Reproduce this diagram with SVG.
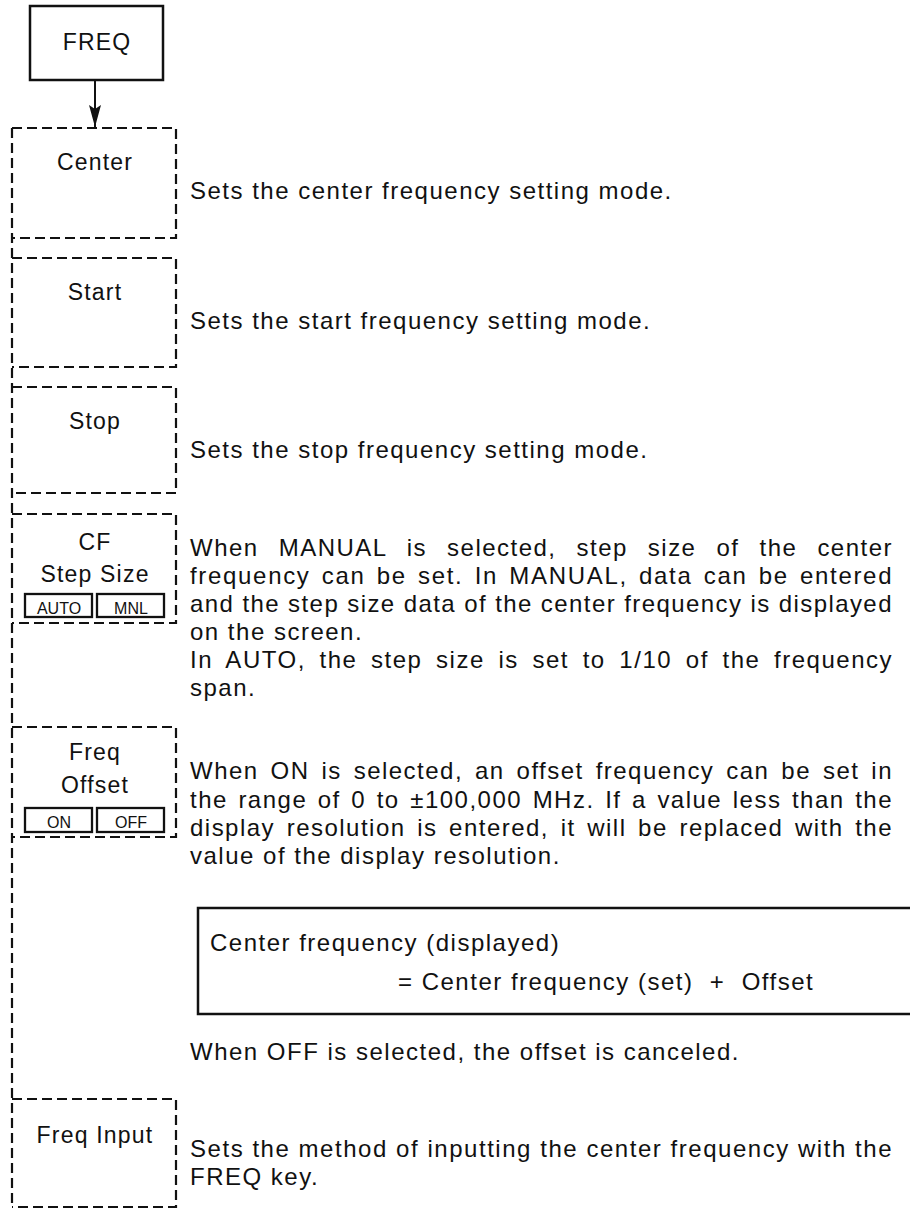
<svg xmlns="http://www.w3.org/2000/svg" width="910" height="1210" viewBox="0 0 910 1210">
<defs>
<marker id="arr" viewBox="0 0 22 12" refX="22" refY="6" markerWidth="22" markerHeight="12" markerUnits="userSpaceOnUse" orient="auto">
<path d="M0 0 L22 6 L0 12 L4 6 Z" fill="#111"/>
</marker>
</defs>
<style>
.t{font-family:"Liberation Sans",Arial,Helvetica,sans-serif;fill:#111}
.d{font-size:24px;letter-spacing:1.5px}
.l{font-size:23px;letter-spacing:1.2px;text-anchor:middle}
.k{font-size:16px;text-anchor:middle}
.dash{fill:none;stroke:#111;stroke-width:2.2;stroke-dasharray:10 5}
.solid{fill:none;stroke:#111;stroke-width:2.5}
.btn{fill:none;stroke:#111;stroke-width:2.3}
</style>
<rect width="910" height="1210" fill="#fff"/>

<g id="node-freq">
<rect class="solid" x="30" y="6" width="133" height="74"/>
<text class="t l" x="97" y="50">FREQ</text>
</g>

<g id="connectors">
<line x1="95" y1="80" x2="95" y2="127" stroke="#111" stroke-width="2" marker-end="url(#arr)"/>
</g>

<g id="menu-spine">
<line class="dash" x1="12" y1="128" x2="12" y2="1207"/>
</g>

<g id="node-center">
<path class="dash" d="M12 128 H176 V238 H12"/>
<text class="t l" x="95" y="170">Center</text>
<text class="t d" x="190" y="199">Sets the center frequency setting mode.</text>
</g>

<g id="node-start">
<path class="dash" d="M12 258 H176 V367 H12"/>
<text class="t l" x="95" y="300">Start</text>
<text class="t d" x="190" y="329">Sets the start frequency setting mode.</text>
</g>

<g id="node-stop">
<path class="dash" d="M12 387 H176 V493 H12"/>
<text class="t l" x="95" y="429">Stop</text>
<text class="t d" x="190" y="458">Sets the stop frequency setting mode.</text>
</g>

<g id="node-cf">
<path class="dash" d="M12 514 H176 V623 H12"/>
<text class="t l" x="95" y="550">CF</text>
<text class="t l" x="95" y="582">Step Size</text>
<rect class="btn" x="25" y="594" width="67" height="23"/>
<rect class="btn" x="97" y="594" width="67" height="23"/>
<text class="t k" x="59" y="614">AUTO</text>
<text class="t k" x="131" y="614">MNL</text>
<text class="t d" x="190" y="556" textLength="703" lengthAdjust="spacing" style="word-spacing:11.9px">When MANUAL is selected, step size of the center</text>
<text class="t d" x="190" y="584" textLength="703" lengthAdjust="spacing" style="word-spacing:2.9px">frequency can be set.  In MANUAL, data can be entered</text>
<text class="t d" x="190" y="612" textLength="703" lengthAdjust="spacing">and the step size data of the center frequency is displayed</text>
<text class="t d" x="190" y="640">on the screen.</text>
<text class="t d" x="190" y="668" textLength="703" lengthAdjust="spacing" style="word-spacing:5.5px">In AUTO, the step size is set to 1/10 of the frequency</text>
<text class="t d" x="190" y="696">span.</text>
</g>

<g id="node-offset">
<path class="dash" d="M12 727 H176 V837 H12"/>
<text class="t l" x="95" y="760">Freq</text>
<text class="t l" x="95" y="793">Offset</text>
<rect class="btn" x="25" y="808" width="67" height="24"/>
<rect class="btn" x="97" y="808" width="67" height="24"/>
<text class="t k" x="59" y="828">ON</text>
<text class="t k" x="131" y="828">OFF</text>
<text class="t d" x="190" y="779" textLength="703" lengthAdjust="spacing" style="word-spacing:3.8px">When ON is selected, an offset frequency can be set in</text>
<text class="t d" x="190" y="808" textLength="703" lengthAdjust="spacing" style="word-spacing:2.4px">the range of 0 to ±100,000 MHz.  If a value less than the</text>
<text class="t d" x="190" y="836" textLength="703" lengthAdjust="spacing" style="word-spacing:3.5px">display resolution is entered, it will be replaced with the</text>
<text class="t d" x="190" y="864">value of the display resolution.</text>
<rect class="solid" x="198" y="908" width="730" height="106"/>
<text class="t d" x="210" y="951">Center frequency (displayed)</text>
<text class="t d" x="398" y="990" xml:space="preserve">= Center frequency (set)  +  Offset</text>
<text class="t d" x="190" y="1060">When OFF is selected, the offset is canceled.</text>
</g>

<g id="node-freq-input">
<path class="dash" d="M12 1099 H176 V1207 H12"/>
<text class="t l" x="95" y="1143">Freq Input</text>
<text class="t d" x="190" y="1157" textLength="703" lengthAdjust="spacing">Sets the method of inputting the center frequency with the</text>
<text class="t d" x="190" y="1185">FREQ key.</text>
</g>
</svg>
